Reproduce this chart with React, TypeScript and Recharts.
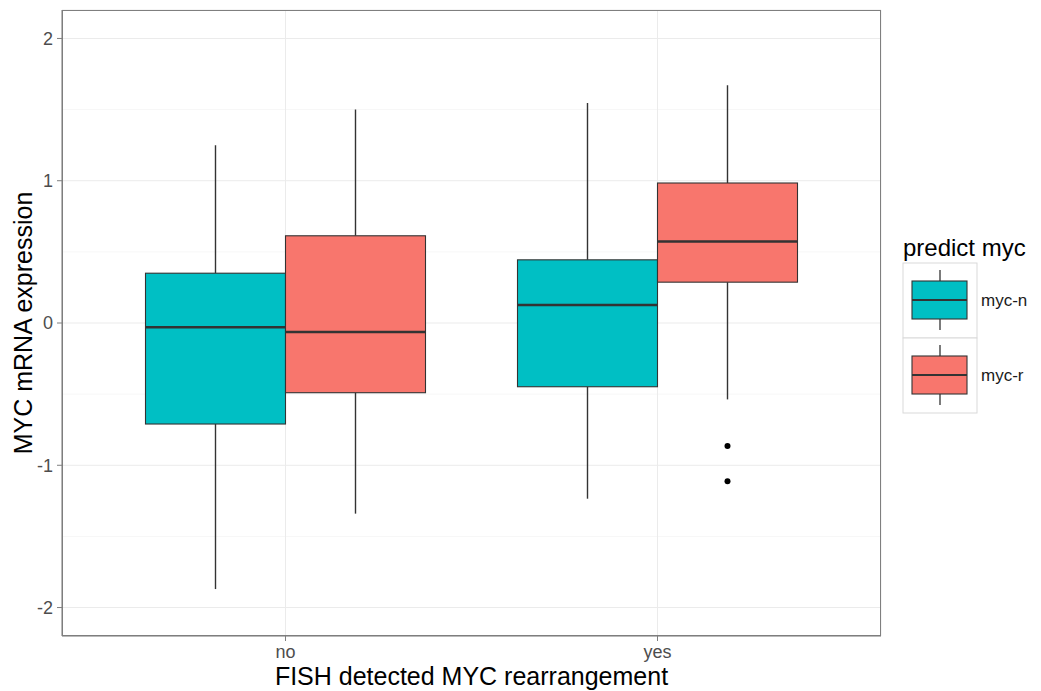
import React from 'react';
import {
  ComposedChart,
  Bar,
  XAxis,
  YAxis,
  CartesianGrid,
  Legend,
} from 'recharts';

// FISH result groups on the x axis
const groups = ['no', 'yes'];

// predicted MYC status, one box per group
const seriesNames = ['myc-n', 'myc-r'];
const seriesColors = ['#00BFC4', '#F8766D'];

// [lower whisker, Q1, median, Q3, upper whisker] per group
const mycNStats = [
  [-1.87, -0.71, -0.03, 0.35, 1.25],
  [-1.235, -0.448, 0.127, 0.444, 1.547],
];
const mycRStats = [
  [-1.34, -0.49, -0.063, 0.613, 1.5],
  [-0.537, 0.287, 0.573, 0.984, 1.671],
];
const mycNOutliers = [[], []];
const mycROutliers = [[], [-0.864, -1.113]];

const yTicks = [-2, -1, 0, 1, 2];
const yMinor = [-1.5, -0.5, 0.5, 1.5];
const yDomain = [-2.2, 2.2];

const FONT = '"Liberation Sans", Arial, Helvetica, sans-serif';
const INK = '#333333';
const FRAME = '#7f7f7f';

type Stats = { min: number; q1: number; median: number; q3: number; max: number; outliers: number[] };

const toStats = (s: number[], out: number[]): Stats => ({
  min: s[0],
  q1: s[1],
  median: s[2],
  q3: s[3],
  max: s[4],
  outliers: out,
});

const data = groups.map((g, i) => ({
  group: g,
  n: toStats(mycNStats[i], mycNOutliers[i]),
  r: toStats(mycRStats[i], mycROutliers[i]),
}));

// The bar spans the whisker range; everything else is placed on the same linear scale.
function renderBox(props: any, key: 'n' | 'r', color: string) {
  const { x, y, width, height, payload } = props;
  const s: Stats = payload[key];
  const top = Math.min(y, y + height);
  const span = Math.abs(height);
  const k = span / (s.max - s.min);
  const toY = (v: number) => top + (s.max - v) * k;
  const cx = x + width / 2;
  return (
    <g>
      <line x1={cx} x2={cx} y1={toY(s.max)} y2={toY(s.q3)} stroke={INK} strokeWidth={1.4} />
      <line x1={cx} x2={cx} y1={toY(s.q1)} y2={toY(s.min)} stroke={INK} strokeWidth={1.4} />
      <rect
        x={x}
        y={toY(s.q3)}
        width={width}
        height={toY(s.q1) - toY(s.q3)}
        fill={color}
        stroke={INK}
        strokeWidth={1.1}
      />
      <line x1={x} x2={x + width} y1={toY(s.median)} y2={toY(s.median)} stroke={INK} strokeWidth={2.4} />
      {s.outliers.map((o, i) => (
        <circle key={i} cx={cx} cy={toY(o)} r={3} fill="#000" />
      ))}
    </g>
  );
}

function LegendBox() {
  return (
    <svg width={146} height={200} style={{ display: 'block', fontFamily: FONT }}>
      <text x={8} y={28} fontSize={24} fill="#000">
        predict myc
      </text>
      {seriesNames.map((name, i) => {
        const top = 35 + i * 75;
        return (
          <g key={name}>
            <rect x={8} y={top} width={74} height={75} fill="#fff" stroke="#d9d9d9" strokeWidth={1} />
            <line x1={45} x2={45} y1={top + 7} y2={top + 18} stroke={INK} strokeWidth={1.3} />
            <line x1={45} x2={45} y1={top + 56} y2={top + 67} stroke={INK} strokeWidth={1.3} />
            <rect x={17} y={top + 18} width={55} height={38} fill={seriesColors[i]} stroke={INK} strokeWidth={1.1} />
            <line x1={17} x2={72} y1={top + 37} y2={top + 37} stroke={INK} strokeWidth={2} />
            <text x={86} y={top + 37} fontSize={17} fill="#1a1a1a" dominantBaseline="central">
              {name}
            </text>
          </g>
        );
      })}
    </svg>
  );
}

const XTitle = (p: any) => {
  const vb = p.viewBox || { x: 62, y: 636, width: 819, height: 55 };
  return (
    <text x={vb.x + vb.width / 2} y={vb.y + 49} textAnchor="middle" fontSize={25} fill="#000">
      FISH detected MYC rearrangement
    </text>
  );
};

const YTitle = (p: any) => {
  const vb = p.viewBox || { x: 0, y: 10, width: 62, height: 626 };
  const cx = vb.x + 32;
  const cy = vb.y + vb.height / 2;
  return (
    <text x={cx} y={cy} transform={`rotate(-90 ${cx} ${cy})`} textAnchor="middle" fontSize={25} fill="#000">
      MYC mRNA expression
    </text>
  );
};

// panel frame: lines along the four edges of the plotting area
const frameH = ({ offset }: any) => [offset.top + 0.5, offset.top + offset.height - 0.5];
const frameV = ({ offset }: any) => [offset.left + 0.5, offset.left + offset.width - 0.5];

export default function App() {
  return (
    <div
      style={{
        position: 'absolute',
        left: 0,
        top: 0,
        width: 1041,
        height: 691,
        background: '#fff',
        fontFamily: FONT,
      }}
    >
      <ComposedChart
        width={1041}
        height={691}
        data={data}
        margin={{ top: 10, right: 160, bottom: 0, left: 0 }}
        barGap={0}
      >
        <CartesianGrid stroke="#f7f7f7" strokeWidth={1} vertical={false} horizontalValues={yMinor} />
        <CartesianGrid stroke="#ebebeb" strokeWidth={1} />
        <CartesianGrid
          stroke={FRAME}
          strokeWidth={1}
          horizontalCoordinatesGenerator={frameH}
          verticalCoordinatesGenerator={frameV}
        />
        <XAxis
          dataKey="group"
          type="category"
          padding={{ left: 37.5, right: 37.5 }}
          height={55}
          tickSize={5}
          tickMargin={4}
          tick={{ fontSize: 18, fill: '#4d4d4d' }}
          tickLine={{ stroke: FRAME }}
          axisLine={{ stroke: FRAME }}
          label={XTitle}
        />
        <YAxis
          type="number"
          domain={yDomain}
          ticks={yTicks}
          allowDataOverflow
          width={62}
          tickSize={5}
          tickMargin={4}
          tick={{ fontSize: 18, fill: '#4d4d4d' }}
          tickLine={{ stroke: FRAME }}
          axisLine={{ stroke: FRAME }}
          label={YTitle}
        />
        <Bar
          name={seriesNames[0]}
          dataKey={(d: any) => [d.n.min, d.n.max]}
          barSize={140}
          fill={seriesColors[0]}
          isAnimationActive={false}
          shape={(p: any) => renderBox(p, 'n', seriesColors[0])}
        />
        <Bar
          name={seriesNames[1]}
          dataKey={(d: any) => [d.r.min, d.r.max]}
          barSize={140}
          fill={seriesColors[1]}
          isAnimationActive={false}
          shape={(p: any) => renderBox(p, 'r', seriesColors[1])}
        />
        <Legend
          layout="horizontal"
          verticalAlign="middle"
          align="center"
          wrapperStyle={{ left: 895, top: 228, width: 146 }}
          content={() => <LegendBox />}
        />
      </ComposedChart>
    </div>
  );
}
